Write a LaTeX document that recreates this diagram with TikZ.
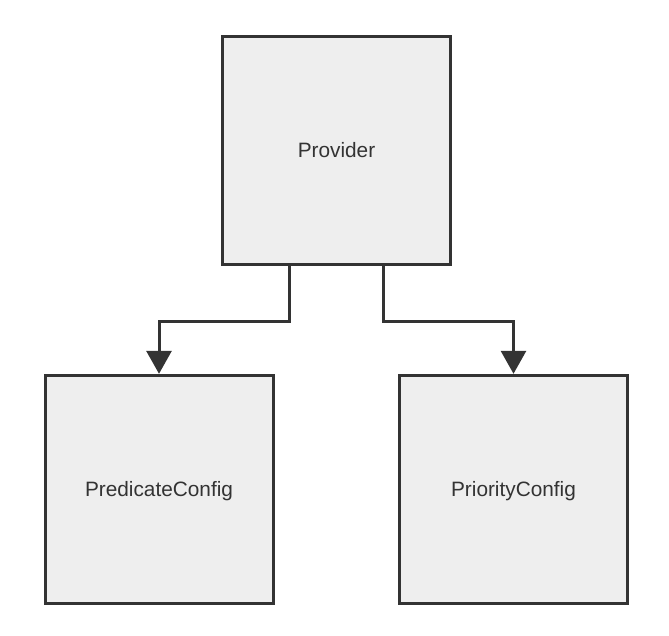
\documentclass[tikz,border=0pt]{standalone}
\usepackage{fontspec}
\setmainfont{Liberation Sans}
\usetikzlibrary{arrows.meta}
\definecolor{boxline}{HTML}{333333}
\definecolor{boxfill}{HTML}{EEEEEE}
\begin{document}
\begin{tikzpicture}[x=1pt, y=-1pt]

\tikzstyle{every node} = [rectangle, draw=boxline, fill=boxfill, line width=3pt, minimum width=228pt, minimum height=228pt, text=boxline, text height=14.8pt, text depth=0pt, font=\fontsize{20.8}{24}\selectfont]
\tikzstyle{link} = [draw=boxline, line width=3pt, -{Triangle[length=23pt, width=25pt]}]

\useasboundingbox (0,0) rectangle (669,636);

\node (prov) at (336.5,150.5) {Provider};
\node (pred) at (159,489.3) {PredicateConfig};
\node (prio) at (513.5,489.3) {PriorityConfig};

\draw[link] ([xshift=-47pt]prov.south) -- ++(0,55.5) -| (pred.north);
\draw[link] ([xshift=47pt]prov.south) -- ++(0,55.5) -| (prio.north);
\end{tikzpicture}
\end{document}
